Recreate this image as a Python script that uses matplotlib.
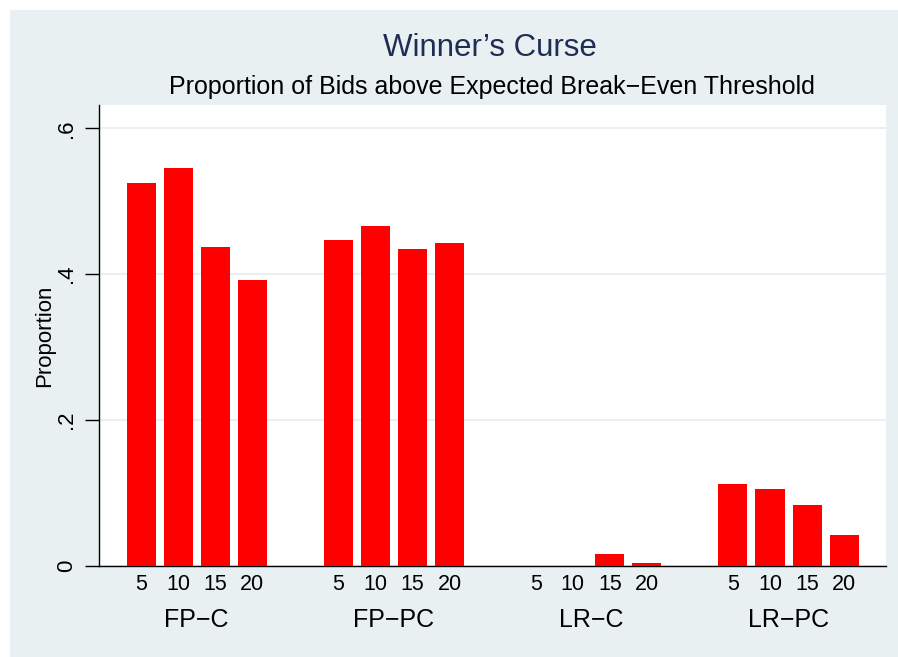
import numpy as np
import matplotlib.pyplot as plt
from matplotlib.patches import Rectangle
import matplotlib.transforms as mtransforms

plt.rcParams['font.family'] = ['Liberation Sans', 'DejaVu Sans']

groups = ['FP\u2212C', 'FP\u2212PC', 'LR\u2212C', 'LR\u2212PC']
sizes = ['5', '10', '15', '20']
fp_c = [0.525, 0.546, 0.437, 0.392]
fp_pc = [0.447, 0.466, 0.435, 0.443]
lr_c = [0.0, 0.0, 0.017, 0.0045]
lr_pc = [0.113, 0.105, 0.084, 0.042]

bg = '#E8F0F2'
bar_color = '#FF0000'
group_step = 5.324
bar_w = 0.784

fig = plt.figure(figsize=(8.98, 6.57), dpi=100)
fig.patch.set_facecolor('white')
fig.add_artist(Rectangle((10 / 898, 0), 1, 1 - 10 / 657, transform=fig.transFigure,
                         facecolor=bg, edgecolor='none', zorder=-10))

ax = fig.add_axes([99 / 898, (657 - 566) / 657, (886 - 99) / 898, (566 - 105) / 657])
ax.set_facecolor('white')

all_vals = [fp_c, fp_pc, lr_c, lr_pc]
xs, labs = [], []
trans = mtransforms.blended_transform_factory(ax.transData, ax.transAxes)
for g, vals in enumerate(all_vals):
    pos = g * group_step + np.arange(len(vals))
    ax.bar(pos, vals, width=bar_w, color=bar_color, edgecolor='none', zorder=3)
    xs.extend(pos)
    labs.extend(sizes)
    ax.text(pos.mean(), -0.117, groups[g], ha='center', va='center', fontsize=18,
            transform=trans)

ax.set_xlim(-1.135, 3 * group_step + 3 + 1.13)
ax.set_ylim(0, 0.632)
ax.set_xticks(xs)
ax.set_xticklabels(labs, fontsize=15.5)
ax.tick_params(axis='x', length=0, pad=6)

ax.set_yticks([0, 0.2, 0.4, 0.6])
ax.set_yticklabels(['0', '.2', '.4', '.6'], rotation=90, va='center', fontsize=16)
ax.tick_params(axis='y', length=10, width=1, pad=6)
ax.yaxis.grid(True, color='#E6EEF0', linewidth=1.2, zorder=0)
ax.set_axisbelow(True)
ax.set_ylabel('Proportion', fontsize=16, va='center')
ax.yaxis.set_label_coords(-0.0686, 0.5)

for s in ['top', 'right']:
    ax.spines[s].set_visible(False)
ax.spines['left'].set_linewidth(1)
ax.spines['bottom'].set_linewidth(1)

fig.text(490 / 898, 1 - 48 / 657, 'Winner\u2019s Curse', ha='center', va='center',
         fontsize=22.5, color='#1F2D55')
fig.text(492 / 898, 1 - 87 / 657, 'Proportion of Bids above Expected Break\u2212Even Threshold',
         ha='center', va='center', fontsize=18)

fig.savefig('out.png', dpi=100, facecolor=fig.get_facecolor())
